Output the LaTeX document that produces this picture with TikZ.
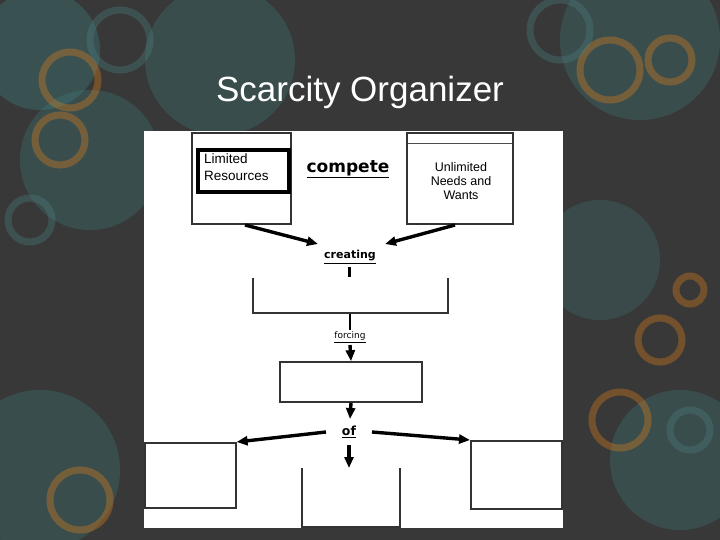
\documentclass[tikz,border=0pt]{standalone}
\usepackage{fontspec}
\setmainfont{Liberation Sans}
\newfontfamily\comic{DejaVu Sans}
\usetikzlibrary{arrows.meta}
\begin{document}
\begin{tikzpicture}[x=1pt,y=-1pt,
  bx/.style={draw=black!80,line width=1.6pt},
  ar/.style={-{Triangle[length=11pt,width=9pt]},line width=3.4pt},
  lab/.style={font=\comic\bfseries},
  ring/.style={line width=7pt,opacity=0.35}]
\useasboundingbox (0,0) rectangle (720,540);
\fill[black!78] (0,0) rectangle (720,540);
% decorative circles
\fill[teal!50!gray,opacity=0.35] (40,50) circle (60);
\fill[teal!50!gray,opacity=0.3] (220,60) circle (75);
\fill[teal!50!gray,opacity=0.3] (90,160) circle (70);
\fill[teal!50!gray,opacity=0.3] (640,40) circle (80);
\fill[teal!50!gray,opacity=0.3] (680,460) circle (70);
\fill[teal!50!gray,opacity=0.3] (40,470) circle (80);
\fill[teal!50!gray,opacity=0.25] (600,260) circle (60);
\draw[ring,orange!60!brown] (70,80) circle (28);
\draw[ring,orange!60!brown] (60,140) circle (25);
\draw[ring,orange!60!brown] (610,70) circle (30);
\draw[ring,orange!60!brown] (670,60) circle (22);
\draw[ring,orange!60!brown] (690,290) circle (14);
\draw[ring,orange!60!brown] (660,340) circle (22);
\draw[ring,orange!60!brown] (620,420) circle (28);
\draw[ring,orange!60!brown] (80,500) circle (30);
\draw[ring,teal!40!gray] (30,220) circle (22);
\draw[ring,teal!40!gray] (120,40) circle (30);
\draw[ring,teal!40!gray] (690,430) circle (20);
\draw[ring,teal!40!gray] (560,30) circle (30);
\node[text=white,font=\fontsize{35}{40}\selectfont] (title) at (360,92) {Scarcity Organizer};
% panel
\fill[white] (144,131) rectangle (563,528);
% boxes
\draw[bx] (192,133) rectangle (291,224);
\draw[line width=3.2pt] (198,150) rectangle (289,192);
\node[align=left,anchor=north west,font=\fontsize{13.5}{17}\selectfont,inner sep=0] (lr) at (204,154) {Limited\\Resources};
\node[lab,font=\comic\bfseries\fontsize{17}{20}\selectfont] (compete) at (348,169) {\underline{compete}};
\draw[bx] (407,133) rectangle (513,224);
\draw[black!70] (408,143) -- (512,143);
\node[align=center,font=\fontsize{12.5}{14}\selectfont] (un) at (461,181) {Unlimited\\Needs and\\Wants};
\coordinate (a1) at (245,225); \coordinate (a2) at (455,225);
\node[lab,font=\comic\bfseries\fontsize{11}{13}\selectfont] (creating) at (350,257) {\underline{creating}};
\draw[ar] (a1) -- (318,244);
\draw[ar] (a2) -- (385,244);
\draw[line width=3pt] (349,267) -- (349,277);
\draw[bx] (253,278) -- (253,313) -- (448,313) -- (448,278);
\coordinate (b1) at (350,314);
\draw[line width=2.6pt] (b1) -- (350,330);
\node[font=\comic\fontsize{9}{11}\selectfont] (forcing) at (350,337) {\underline{forcing}};
\node[bx,minimum width=142pt,minimum height=40pt] (scar) at (351,382) {};
\draw[ar] (350,345) -- (scar.north);
\node[lab,font=\comic\bfseries\fontsize{12.5}{14}\selectfont] (of) at (349,432) {\underline{of}};
\draw[ar] (scar.south) -- (350,419);
\node[bx,minimum width=91pt,minimum height=65pt,anchor=north west] (l) at (144,442) {};
\node[bx,minimum width=91pt,minimum height=68pt,anchor=north west] (r) at (470,440) {};
\draw[bx] (302,468) -- (302,527) -- (400,527) -- (400,468);
\coordinate (c) at (349,468);
\draw[ar] (326,432) -- (l.north east);
\draw[ar] (372,432) -- (r.north west);
\draw[ar] (349,445) -- (c);
\end{tikzpicture}
\end{document}
